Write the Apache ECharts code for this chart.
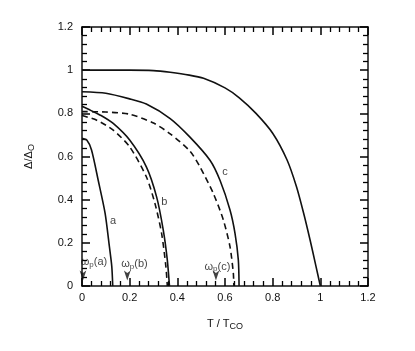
<!DOCTYPE html>
<html>
<head>
<meta charset="utf-8">
<script src="https://cdn.jsdelivr.net/npm/echarts@6/dist/echarts.min.js"></script>
<style>
  html, body { margin: 0; padding: 0; background: #fff; }
  #main { width: 415px; height: 351px; }
</style>
</head>
<body>
<div id="main"></div>
<script>
var chart = echarts.init(document.getElementById('main'));

// curve with gap 1 at T=0
var tTop = [0, 0.1, 0.2, 0.3, 0.37, 0.45, 0.51, 0.6, 0.66, 0.73, 0.8, 0.86, 0.9, 0.93, 0.957, 0.982, 1.0];
var dTop = [1, 1, 1, 0.998, 0.99, 0.977, 0.962, 0.918, 0.872, 0.8, 0.708, 0.585, 0.46, 0.337, 0.213, 0.09, 0];

// curve c, solid and dashed
var tC = [0, 0.1, 0.2, 0.27, 0.37, 0.453, 0.537, 0.579, 0.621, 0.642, 0.656, 0.659];
var dC = [0.9, 0.893, 0.867, 0.843, 0.776, 0.69, 0.583, 0.49, 0.352, 0.244, 0.12, 0];
var tCd = [0, 0.1, 0.2, 0.3, 0.37, 0.453, 0.495, 0.551, 0.593, 0.621, 0.635, 0.637];
var dCd = [0.808, 0.806, 0.796, 0.755, 0.705, 0.625, 0.552, 0.429, 0.306, 0.182, 0.059, 0];

// curve b, solid and dashed
var tB = [0, 0.034, 0.08, 0.131, 0.2, 0.27, 0.313, 0.341, 0.358, 0.367];
var dB = [0.833, 0.815, 0.79, 0.753, 0.676, 0.552, 0.413, 0.259, 0.12, 0];
var tBd = [0, 0.062, 0.131, 0.2, 0.27, 0.306, 0.334, 0.352, 0.358];
var dBd = [0.79, 0.768, 0.722, 0.645, 0.506, 0.383, 0.244, 0.09, 0];

// curve a
var tA = [0, 0.02, 0.04, 0.068, 0.097, 0.115, 0.125, 0.129];
var dA = [0.684, 0.676, 0.63, 0.49, 0.337, 0.182, 0.09, 0];

// text labels in the plot
var labelText = ['a', 'b', 'c', 'ωp(a)', 'ωp(b)', 'ωp(c)'];
var labelT = [0.13, 0.345, 0.6, 0.05, 0.22, 0.568];
var labelD = [0.3, 0.39, 0.53, 0.11, 0.1, 0.09];

// arrows marking ωp on the T axis
var arrowT = [0.004, 0.19, 0.562];
var arrowD = [0.025, 0.025, 0.025];

function pairs(xs, ys) {
  return xs.map(function (x, i) { return [x, ys[i]]; });
}

function curve(xs, ys, dashed) {
  return {
    type: 'line',
    data: pairs(xs, ys),
    smooth: 0.25,
    symbol: 'none',
    lineStyle: { color: '#111', width: 1.6, type: dashed ? [6, 4] : 'solid' }
  };
}

function subLabel(s) {
  if (s.indexOf('ωp') === 0) return '{t|ω}{s|p}{t|' + s.slice(2) + '}';
  return '{t|' + s + '}';
}

function axis(pos, withLabels) {
  return {
    type: 'value',
    min: 0,
    max: 1.2,
    interval: 0.2,
    position: pos,
    axisLine: { show: true, onZero: false, lineStyle: { color: '#111', width: 1.5 } },
    axisTick: { show: true, inside: true, length: 8, lineStyle: { color: '#000', width: 1.5 } },
    minorTick: { show: true, splitNumber: 5, length: 5, lineStyle: { color: '#000', width: 1.3 } },
    splitLine: { show: false },
    axisLabel: { show: withLabels, color: '#111', fontSize: 11, fontFamily: 'Liberation Sans' }
  };
}

var nameRich = {
  t: { fontSize: 11, fontFamily: 'Liberation Sans', color: '#111' },
  s: { fontSize: 9, fontFamily: 'Liberation Sans', color: '#111', padding: [6, 0, 0, 0] }
};

var xBottom = axis('bottom', true);
xBottom.axisLabel.margin = 6;
xBottom.name = '{t|T / T}{s|CO}';
xBottom.nameLocation = 'middle';
xBottom.nameGap = 30;
xBottom.nameTextStyle = { rich: nameRich };

var yLeft = axis('left', true);
yLeft.axisLabel.margin = 9;
yLeft.name = '{t|Δ/Δ}{s|O}';
yLeft.nameLocation = 'middle';
yLeft.nameRotate = 90;
yLeft.nameGap = 46;
yLeft.nameTextStyle = { rich: nameRich };

var option = {
  animation: false,
  grid: { left: 82, top: 27, right: 47, bottom: 65 },
  xAxis: [xBottom, axis('top', false)],
  yAxis: [yLeft, axis('right', false)],
  series: [
    curve(tTop, dTop, false),
    curve(tC, dC, false),
    curve(tCd, dCd, true),
    curve(tB, dB, false),
    curve(tBd, dBd, true),
    curve(tA, dA, false),
    {
      type: 'scatter',
      symbolSize: 0,
      data: pairs(labelT, labelD).map(function (p, i) { return { value: p, name: labelText[i] }; }),
      label: {
        show: true,
        position: 'inside',
        formatter: function (p) { return subLabel(p.name); },
        rich: {
          t: { fontSize: 11, fontFamily: 'Liberation Sans', color: '#111' },
          s: { fontSize: 8, fontFamily: 'Liberation Sans', color: '#111', padding: [5, 0, 0, 0] }
        }
      }
    },
    {
      type: 'scatter',
      symbol: 'arrow',
      symbolRotate: 180,
      symbolSize: [5, 10],
      itemStyle: { color: '#111' },
      data: pairs(arrowT, arrowD)
    }
  ]
};

chart.setOption(option);
</script>
</body>
</html>
